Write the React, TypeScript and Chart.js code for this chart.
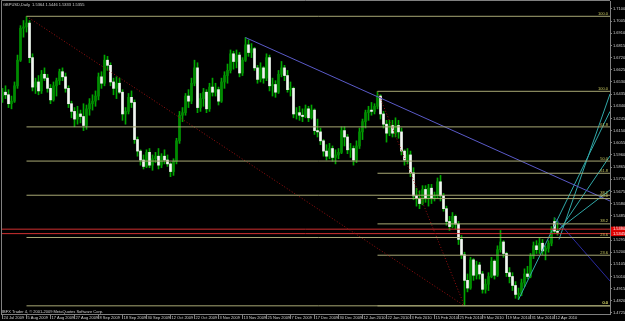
import React, { useEffect, useRef } from "react";
import { Chart, registerables } from "chart.js";
Chart.register(...registerables);

const chartTitle = "GBPUSD,Daily  1.5364 1.5446 1.5333 1.5355";
const copyrightText = "IBFX Trader 4, \u00a9 2001-2009 MetaQuotes Software Corp.";

const opens = [
  1.6420,1.6450,1.6430,1.6360,1.6380,1.6500,1.6700,1.6950,1.6960,1.6990,
  1.6720,1.6490,1.6530,1.6460,1.6590,1.6560,1.6480,1.6390,1.6500,1.6540,
  1.6610,1.6570,1.6480,1.6360,1.6300,1.6240,1.6280,1.6260,1.6190,1.6320,
  1.6360,1.6380,1.6420,1.6570,1.6520,1.6700,1.6660,1.6530,1.6480,1.6520,
  1.6450,1.6280,1.6300,1.6410,1.6370,1.6080,1.5990,1.5920,1.5870,1.5980,
  1.5880,1.5930,1.5950,1.5880,1.5950,1.5920,1.5890,1.5830,1.5910,1.6070,
  1.6270,1.6290,1.6420,1.6380,1.6520,1.6640,1.6330,1.6400,1.6450,1.6320,
  1.6490,1.6450,1.6470,1.6380,1.6530,1.6580,1.6620,1.6750,1.6690,1.6740,
  1.6600,1.6700,1.6820,1.6760,1.6790,1.6640,1.6550,1.6640,1.6560,1.6720,
  1.6500,1.6510,1.6450,1.6590,1.6640,1.6580,1.6470,1.6480,1.6280,1.6290,
  1.6270,1.6260,1.6320,1.6250,1.6310,1.6150,1.6140,1.6070,1.5990,1.5950,
  1.6010,1.5940,1.5960,1.5980,1.6150,1.6100,1.6000,1.6010,1.5920,1.6030,
  1.6140,1.6220,1.6290,1.6310,1.6300,1.6340,1.6420,1.6280,1.6200,1.6130,
  1.6190,1.6130,1.6190,1.6140,1.5990,1.5920,1.5960,1.5820,1.5640,1.5620,
  1.5580,1.5690,1.5620,1.5700,1.5620,1.5640,1.5750,1.5640,1.5540,1.5440,
  1.5400,1.5480,1.5420,1.5300,1.5180,1.4980,1.4920,1.5140,1.5020,1.5100,
  1.5030,1.4910,1.4950,1.5010,1.5130,1.5020,1.5220,1.5280,1.5190,1.5040,
  1.5010,1.4940,1.4870,1.4880,1.4960,1.5030,1.5010,1.5170,1.5250,1.5220,
  1.5270,1.5210,1.5230,1.5270,1.5440,1.5364,
];
const highs = [
  1.6480,1.6500,1.6470,1.6420,1.6530,1.6740,1.6970,1.7010,1.7043,1.7010,
  1.6750,1.6560,1.6580,1.6620,1.6640,1.6590,1.6510,1.6530,1.6560,1.6630,
  1.6640,1.6600,1.6500,1.6380,1.6330,1.6340,1.6310,1.6360,1.6350,1.6400,
  1.6430,1.6460,1.6600,1.6610,1.6740,1.6730,1.6680,1.6560,1.6570,1.6560,
  1.6470,1.6330,1.6440,1.6460,1.6390,1.6100,1.6000,1.5960,1.6000,1.6010,
  1.5960,1.5980,1.6010,1.5970,1.6000,1.5960,1.5900,1.5930,1.6090,1.6300,
  1.6330,1.6440,1.6470,1.6560,1.6700,1.6680,1.6440,1.6480,1.6470,1.6520,
  1.6560,1.6520,1.6490,1.6560,1.6610,1.6670,1.6780,1.6770,1.6780,1.6760,
  1.6720,1.6877,1.6860,1.6830,1.6800,1.6660,1.6680,1.6650,1.6750,1.6740,
  1.6560,1.6540,1.6620,1.6690,1.6660,1.6620,1.6530,1.6490,1.6330,1.6340,
  1.6320,1.6350,1.6340,1.6350,1.6320,1.6240,1.6170,1.6080,1.6040,1.6050,
  1.6030,1.6000,1.6010,1.6180,1.6180,1.6120,1.6050,1.6030,1.6070,1.6170,
  1.6240,1.6310,1.6340,1.6370,1.6360,1.6457,1.6430,1.6300,1.6230,1.6230,
  1.6230,1.6250,1.6230,1.6170,1.6000,1.6010,1.5990,1.5860,1.5700,1.5680,
  1.5720,1.5720,1.5730,1.5730,1.5670,1.5780,1.5800,1.5660,1.5560,1.5480,
  1.5510,1.5490,1.5440,1.5330,1.5200,1.5030,1.5160,1.5150,1.5130,1.5120,
  1.5050,1.4990,1.5040,1.5160,1.5140,1.5250,1.5370,1.5290,1.5200,1.5080,
  1.5040,1.4970,1.4920,1.4990,1.5070,1.5090,1.5190,1.5280,1.5290,1.5310,
  1.5300,1.5250,1.5290,1.5400,1.5470,1.5446,
];
const lows = [
  1.6370,1.6400,1.6330,1.6320,1.6370,1.6480,1.6690,1.6880,1.6920,1.6680,
  1.6460,1.6440,1.6430,1.6440,1.6540,1.6450,1.6360,1.6380,1.6420,1.6510,
  1.6540,1.6450,1.6330,1.6250,1.6180,1.6200,1.6210,1.6150,1.6160,1.6270,
  1.6310,1.6340,1.6390,1.6480,1.6500,1.6620,1.6500,1.6430,1.6400,1.6440,
  1.6230,1.6200,1.6280,1.6330,1.6050,1.5950,1.5880,1.5850,1.5860,1.5860,
  1.5840,1.5900,1.5850,1.5860,1.5890,1.5870,1.5790,1.5800,1.5890,1.6050,
  1.6220,1.6270,1.6330,1.6360,1.6500,1.6290,1.6300,1.6340,1.6290,1.6300,
  1.6420,1.6420,1.6350,1.6370,1.6480,1.6520,1.6600,1.6630,1.6640,1.6570,
  1.6580,1.6690,1.6730,1.6720,1.6620,1.6520,1.6530,1.6520,1.6540,1.6460,
  1.6420,1.6410,1.6440,1.6570,1.6540,1.6450,1.6420,1.6250,1.6240,1.6230,
  1.6220,1.6250,1.6220,1.6240,1.6120,1.6100,1.6040,1.5950,1.5920,1.5930,
  1.5910,1.5890,1.5930,1.5970,1.6030,1.5970,1.5940,1.5880,1.5900,1.6010,
  1.6080,1.6170,1.6230,1.6270,1.6280,1.6320,1.6240,1.6170,1.6060,1.6110,
  1.6100,1.6100,1.6090,1.5960,1.5880,1.5890,1.5790,1.5610,1.5560,1.5540,
  1.5570,1.5590,1.5560,1.5580,1.5600,1.5620,1.5600,1.5520,1.5410,1.5370,
  1.5390,1.5380,1.5260,1.5150,1.4781,1.4890,1.4910,1.4980,1.4990,1.4990,
  1.4880,1.4880,1.4900,1.5000,1.4990,1.5010,1.5200,1.5160,1.5010,1.4960,
  1.4900,1.4840,1.4830,1.4860,1.4930,1.4990,1.5000,1.5150,1.5190,1.5190,
  1.5180,1.5140,1.5200,1.5250,1.5350,1.5333,
];
const closes = [
  1.6450,1.6430,1.6360,1.6380,1.6500,1.6700,1.6950,1.6960,1.6990,1.6720,
  1.6490,1.6530,1.6460,1.6590,1.6560,1.6480,1.6390,1.6500,1.6540,1.6610,
  1.6570,1.6480,1.6360,1.6300,1.6240,1.6280,1.6260,1.6190,1.6320,1.6360,
  1.6380,1.6420,1.6570,1.6520,1.6700,1.6660,1.6530,1.6480,1.6520,1.6450,
  1.6280,1.6300,1.6410,1.6370,1.6080,1.5990,1.5920,1.5870,1.5980,1.5880,
  1.5930,1.5950,1.5880,1.5950,1.5920,1.5890,1.5830,1.5910,1.6070,1.6270,
  1.6290,1.6420,1.6380,1.6520,1.6640,1.6330,1.6400,1.6450,1.6320,1.6490,
  1.6450,1.6470,1.6380,1.6530,1.6580,1.6620,1.6750,1.6690,1.6740,1.6600,
  1.6700,1.6820,1.6760,1.6790,1.6640,1.6550,1.6640,1.6560,1.6720,1.6500,
  1.6510,1.6450,1.6590,1.6640,1.6580,1.6470,1.6480,1.6280,1.6290,1.6270,
  1.6260,1.6320,1.6250,1.6310,1.6150,1.6140,1.6070,1.5990,1.5950,1.6010,
  1.5940,1.5960,1.5980,1.6150,1.6100,1.6000,1.6010,1.5920,1.6030,1.6140,
  1.6220,1.6290,1.6310,1.6300,1.6340,1.6420,1.6280,1.6200,1.6130,1.6190,
  1.6130,1.6190,1.6140,1.5990,1.5920,1.5960,1.5820,1.5640,1.5620,1.5580,
  1.5690,1.5620,1.5700,1.5620,1.5640,1.5750,1.5640,1.5540,1.5440,1.5400,
  1.5480,1.5420,1.5300,1.5180,1.4980,1.4920,1.5140,1.5020,1.5100,1.5030,
  1.4910,1.4950,1.5010,1.5130,1.5020,1.5220,1.5280,1.5190,1.5040,1.5010,
  1.4940,1.4870,1.4880,1.4960,1.5030,1.5010,1.5170,1.5250,1.5220,1.5270,
  1.5210,1.5230,1.5270,1.5380,1.5364,1.5355,
];

const xTickBars = [0, 8, 16, 24, 32, 40, 48, 56, 64, 72, 80, 88, 96, 104, 112, 120, 128, 136, 144, 152, 160, 168, 176, 184];
const xTickLabels = [
  "24 Jul 2009", "5 Aug 2009", "17 Aug 2009", "27 Aug 2009", "8 Sep 2009", "18 Sep 2009",
  "30 Sep 2009", "12 Oct 2009", "22 Oct 2009", "3 Nov 2009", "13 Nov 2009", "25 Nov 2009",
  "7 Dec 2009", "17 Dec 2009", "30 Dec 2009", "12 Jan 2010", "22 Jan 2010", "3 Feb 2010",
  "15 Feb 2010", "25 Feb 2010", "9 Mar 2010", "19 Mar 2010", "31 Mar 2010", "12 Apr 2010",
];
const yTickValues = [
  1.7100, 1.7005, 1.6910, 1.6815, 1.6720, 1.6625, 1.6530, 1.6435, 1.6340, 1.6245,
  1.6150, 1.6055, 1.5960, 1.5865, 1.5770, 1.5675, 1.5580, 1.5485, 1.5390, 1.5295,
  1.5200, 1.5105, 1.5010, 1.4915, 1.4820, 1.4725,
];

const fibLevels = [0, 23.6, 38.2, 50, 61.8, 100];
const fibLevelLabels = ["0.0", "23.6", "38.2", "50.0", "61.8", "100.0"];
const fibHighBars = [8, 125];
const fibLowBar = 154;

const trendBars = [81, 202.5];
const trendPrices = [1.6877, 1.5600];
const fanStartBars = [172, 185.5, 185.5, 185.5];
const fanStartPrices = [1.4830, 1.5300, 1.5366, 1.5381];
const fanEndPrices = [1.6300, 1.6436, 1.5952, 1.5686];
const downBars = [184, 202.5];
const downPrices = [1.5470, 1.4975];
const redLinePrices = [1.5380, 1.5345];

const X_MIN = -0.5;
const X_MAX = 202.5;
const Y_MAX = 1.71625;
const Y_MIN = 1.4717187;

const WICK = "#00a800";
const BULL = "#008c00";
const BEAR = "#f4f4f4";
const FIB = "#a8a874";
const TXT = "#d0d0d0";

function seg(x1: number, y1: number, x2: number, y2: number, color: string, dash: number[] = [], width = 1) {
  return {
    type: "line" as const,
    data: [{ x: x1, y: y1 }, { x: x2, y: y2 }],
    borderColor: color,
    borderWidth: width,
    borderDash: dash,
    pointRadius: 0,
    fill: false,
    order: 0,
  };
}

export default function App() {
  const ref = useRef<HTMLCanvasElement | null>(null);
  useEffect(() => {
    document.body.style.margin = "0";
    document.body.style.background = "#000";
    const canvas = ref.current!;
    const idx = closes.map((_, i) => i);

    const lineSets: any[] = [];
    fibHighBars.forEach((hb) => {
      const hi = highs[hb];
      const lo = lows[fibLowBar];
      fibLevels.forEach((lv) => {
        const p = lo + ((hi - lo) * lv) / 100;
        lineSets.push(seg(hb, p, X_MAX, p, FIB));
      });
      lineSets.push(seg(hb, hi, fibLowBar, lo, "#9a1010", [1, 2]));
    });
    redLinePrices.forEach((p) => lineSets.push(seg(X_MIN, p, X_MAX, p, "#d03030")));
    lineSets.push(seg(trendBars[0], trendPrices[0], trendBars[1], trendPrices[1], "#5a5ac8"));
    fanStartBars.forEach((b, k) => lineSets.push(seg(b, fanStartPrices[k], X_MAX, fanEndPrices[k], "#30a8a8")));
    lineSets.push(seg(downBars[0], downPrices[0], downBars[1], downPrices[1], "#2a2aa0"));

    const textPlugin = {
      id: "mt4text",
      beforeDraw(chart: any) {
        const c = chart.ctx;
        c.save();
        c.fillStyle = "#000";
        c.fillRect(0, 0, chart.width, chart.height);
        c.restore();
      },
      afterDatasetsDraw(chart: any) {
        const c = chart.ctx;
        const y = chart.scales.y;
        const area = chart.chartArea;
        c.save();
        c.font = "4px 'Liberation Sans', Arial, sans-serif";
        c.fillStyle = "#c8c860";
        c.textAlign = "right";
        c.textBaseline = "bottom";
        fibHighBars.forEach((hb) => {
          const hi = highs[hb];
          const lo = lows[fibLowBar];
          fibLevels.forEach((lv, k) => {
            const p = lo + ((hi - lo) * lv) / 100;
            c.fillText(fibLevelLabels[k], area.right - 2, y.getPixelForValue(p) - 0.5);
          });
        });
        c.fillStyle = TXT;
        c.textAlign = "left";
        c.textBaseline = "top";
        c.fillText(chartTitle, 3, 3);
        c.textBaseline = "bottom";
        c.fillText(copyrightText, 2, area.bottom - 0.5);
        c.strokeStyle = "#808080";
        c.lineWidth = 1;
        c.beginPath();
        c.moveTo(1.5, area.bottom);
        c.lineTo(1.5, 0.5);
        c.lineTo(area.right, 0.5);
        c.stroke();
        c.restore();
      },
      afterDraw(chart: any) {
        const c = chart.ctx;
        const y = chart.scales.y;
        const area = chart.chartArea;
        c.save();
        c.font = "4px 'Liberation Sans', Arial, sans-serif";
        c.textAlign = "left";
        c.textBaseline = "middle";
        redLinePrices.forEach((p) => {
          const py = y.getPixelForValue(p);
          c.fillStyle = "#e00000";
          c.fillRect(area.right + 1, py - 2.5, chart.width - area.right - 1, 5);
          c.fillStyle = "#ffffff";
          c.fillText(p.toFixed(4), area.right + 3, py);
        });
        c.restore();
      },
    };

    const chart = new Chart(canvas, {
      type: "bar",
      data: {
        datasets: [
          ...lineSets,
          {
            type: "bar",
            data: idx.map((i) => ({ x: i, y: [opens[i], closes[i]] })),
            backgroundColor: idx.map((i) => (closes[i] < opens[i] ? BEAR : BULL)),
            barThickness: 2,
            minBarLength: 1,
            grouped: false,
            borderWidth: 0,
            order: 1,
          },
          {
            type: "bar",
            data: idx.map((i) => ({ x: i, y: [lows[i], highs[i]] })),
            backgroundColor: WICK,
            barThickness: 1,
            grouped: false,
            borderWidth: 0,
            order: 2,
          },
        ],
      } as any,
      options: {
        animation: false,
        responsive: false,
        devicePixelRatio: 1,
        layout: { padding: { left: 1, top: 1, right: 0, bottom: 0 } },
        plugins: { legend: { display: false }, title: { display: false }, tooltip: { enabled: false } },
        scales: {
          x: {
            type: "linear",
            min: X_MIN,
            max: X_MAX,
            offset: false,
            afterBuildTicks: (s: any) => {
              s.ticks = xTickBars.map((v) => ({ value: v }));
            },
            afterFit: (s: any) => {
              s.height = 7;
              s.paddingLeft = 0;
              s.paddingRight = 0;
            },
            ticks: {
              autoSkip: false,
              maxRotation: 0,
              minRotation: 0,
              align: "start",
              labelOffset: 1,
              padding: -4,
              color: TXT,
              font: { size: 4, family: "'Liberation Sans', Arial, sans-serif" },
              callback: (v: any) => {
                const k = xTickBars.indexOf(Number(v));
                return k >= 0 ? xTickLabels[k] : "";
              },
            },
            grid: { display: true, drawOnChartArea: false, offset: false, drawTicks: true, tickLength: 5, color: "#808080" },
            border: { display: true, color: "#808080" },
          },
          y: {
            type: "linear",
            position: "right",
            min: Y_MIN,
            max: Y_MAX,
            beginAtZero: false,
            afterBuildTicks: (s: any) => {
              s.ticks = yTickValues.map((v) => ({ value: v }));
            },
            afterFit: (s: any) => {
              s.width = 15;
              s.paddingTop = 0;
              s.paddingBottom = 0;
            },
            ticks: {
              autoSkip: false,
              padding: 1,
              color: TXT,
              font: { size: 4, family: "'Liberation Sans', Arial, sans-serif" },
              callback: (v: any) => Number(v).toFixed(4),
            },
            grid: { display: true, drawOnChartArea: false, drawTicks: true, tickLength: 2, color: "#808080" },
            border: { display: true, color: "#808080" },
          },
        },
      } as any,
      plugins: [textPlugin],
    });
    return () => chart.destroy();
  }, []);

  return (
    <div style={{ width: 625, height: 321, background: "#000" }}>
      <canvas ref={ref} width={625} height={321} style={{ display: "block", width: 625, height: 321 }} />
    </div>
  );
}
